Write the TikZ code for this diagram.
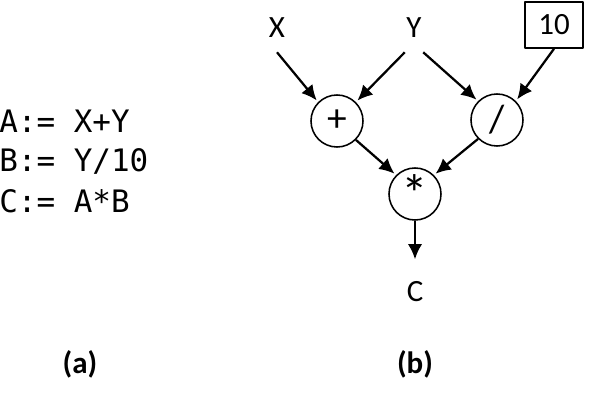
\documentclass[tikz,border=0pt]{standalone}
\usepackage{fontspec}
\setmainfont{Carlito}
\setmonofont{DejaVu Sans Mono}
\usetikzlibrary{arrows.meta}
\tikzset{
	op/.style={draw,circle,line width=1.1pt,minimum size=1.3cm,inner sep=0pt,font=\fontsize{28}{30}\selectfont},
	val/.style={inner xsep=1pt,inner ysep=0pt,minimum height=1.2cm},
	code/.style={anchor=west,inner sep=0pt,font=\ttfamily\fontsize{22}{26}\selectfont},
	flow/.style={->,line width=1.6pt,shorten >=1.5pt}
}
\begin{document}
\begin{tikzpicture}[x=0.025cm,y=-0.025cm,line join=round,>={Latex[length=3.8mm,width=3.6mm]},
	font=\fontsize{22}{26}\selectfont]
	\useasboundingbox (0,0) rectangle (599,406);
	% the program
	\node[code] (codeA) at (-1,121) {A:= X+Y};
	\node[code] (codeB) at (-1,161) {B:= Y/10};
	\node[code] (codeC) at (-1,201) {C:= A*B};
	% the graph
	\node[val] (x) at (277,28) {X};
	\node[val] (y) at (414,28) {Y};
	\node[draw,line width=1.1pt,minimum width=1.45cm,minimum height=1.15cm,inner sep=0pt] (ten) at (554,25) {10};
	\node[op] (plus) at (337,121) {+};
	\node[op] (div) at (497,120) {/};
	\node[op,font=\fontsize{38}{40}\selectfont] (mul) at (415,194) {*};
	\node[val] (c) at (415,292) {C};
	\draw[flow] (x.south) -- (plus.135);
	\draw[flow] (y.south west) -- (plus.45);
	\draw[flow] (y.south east) -- (div.135);
	\draw[flow] (ten.south) -- (div.45);
	\draw[flow] (plus.-45) -- (mul.135);
	\draw[flow] (div.-135) -- (mul.45);
	\draw[flow,shorten >=6pt] (mul) -- (c);
	% captions
	\node[font=\bfseries\fontsize{22}{26}\selectfont] (capA) at (80,364) {(a)};
	\node[font=\bfseries\fontsize{22}{26}\selectfont] (capB) at (415,364) {(b)};
\end{tikzpicture}
\end{document}
